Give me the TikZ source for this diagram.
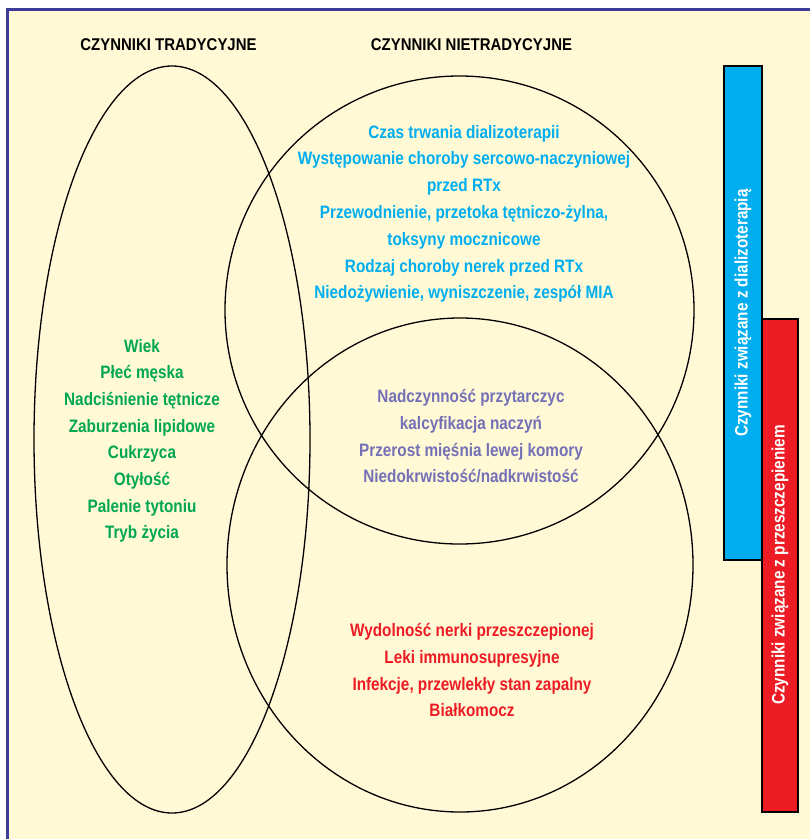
\documentclass[tikz,border=0pt]{standalone}
\usepackage{fontspec}
\setmainfont[FakeStretch=0.85]{Liberation Sans}
\newfontfamily\hdfont[FakeStretch=0.88]{Liberation Sans}
\definecolor{cream}{HTML}{FFF9D6}
\definecolor{frame}{HTML}{3D3D99}
\definecolor{cgreen}{HTML}{00A651}
\definecolor{cblue}{HTML}{00AEEF}
\definecolor{cpurple}{HTML}{7470B5}
\definecolor{cred}{HTML}{ED1C24}
\begin{document}
\begin{tikzpicture}[x=1pt,y=-1pt,
  venn/.style={draw=black, line width=1.3pt},
  txt/.style={anchor=base, inner sep=0pt, font=\fontsize{18}{20}\selectfont\bfseries},
  hd/.style={anchor=base, inner sep=0pt, font=\hdfont\fontsize{17}{18}\selectfont\bfseries},
  barbox/.style={draw=black, line width=1.2pt},
  bartxt/.style={inner sep=0pt, rotate=90, text=white, font=\fontsize{18}{20}\selectfont\bfseries}]
\useasboundingbox (0,0) rectangle (810,839);
\begin{scope}
\clip (0,0) rectangle (810,839);
\fill[white] (0,0) rectangle (810,839);
\fill[cream] (7,9) rectangle (820,850);
\draw[frame, line width=3pt] (7,850) -- (7,9) -- (820,9);
\end{scope}
% Venn shapes
\draw[venn] (172,439.5) ellipse [x radius=138pt, y radius=373.5pt];
\draw[venn] (459.5,310) ellipse [x radius=234.5pt, y radius=234pt];
\draw[venn] (460,565) ellipse [x radius=233pt, y radius=247pt];
% headers
\node[hd] (h1) at (168.5,50.5) {CZYNNIKI TRADYCYJNE};
\node[hd] (h2) at (471.5,50.5) {CZYNNIKI NIETRADYCYJNE};
% green
\foreach \t [count=\i] in {Wiek, Płeć męska, Nadciśnienie tętnicze, Zaburzenia lipidowe, Cukrzyca, Otyłość, Palenie tytoniu, Tryb życia}
  \node[txt, text=cgreen] (g\i) at (142,{352+26.7*(\i-1)}) {\t};
% blue
\foreach \t [count=\i] in {Czas trwania dializoterapii, Występowanie choroby sercowo-naczyniowej, przed RTx, {Przewodnienie, przetoka tętniczo-żylna,}, toksyny mocznicowe, Rodzaj choroby nerek przed RTx, {Niedożywienie, wyniszczenie, zespół MIA}}
  \node[txt, text=cblue] (b\i) at (464,{138+26.8*(\i-1)}) {\t};
% purple
\foreach \t [count=\i] in {Nadczynność przytarczyc, kalcyfikacja naczyń, Przerost mięśnia lewej komory, Niedokrwistość/nadkrwistość}
  \node[txt, text=cpurple] (p\i) at (471,{402.5+26.8*(\i-1)}) {\t};
% red
\foreach \t [count=\i] in {Wydolność nerki przeszczepionej, Leki immunosupresyjne, {Infekcje, przewlekły stan zapalny}, Białkomocz}
  \node[txt, text=cred] (r\i) at (472,{636.5+26.8*(\i-1)}) {\t};
% bars
\draw[barbox, fill=cblue] (724,66) rectangle (762,560);
\draw[barbox, fill=cred] (762,319) rectangle (798,812);
\node[bartxt] (bt1) at (743,313) {Czynniki związane z dializoterapią};
\node[bartxt] (bt2) at (780,565) {Czynniki związane z przeszczepieniem};
\end{tikzpicture}
\end{document}
